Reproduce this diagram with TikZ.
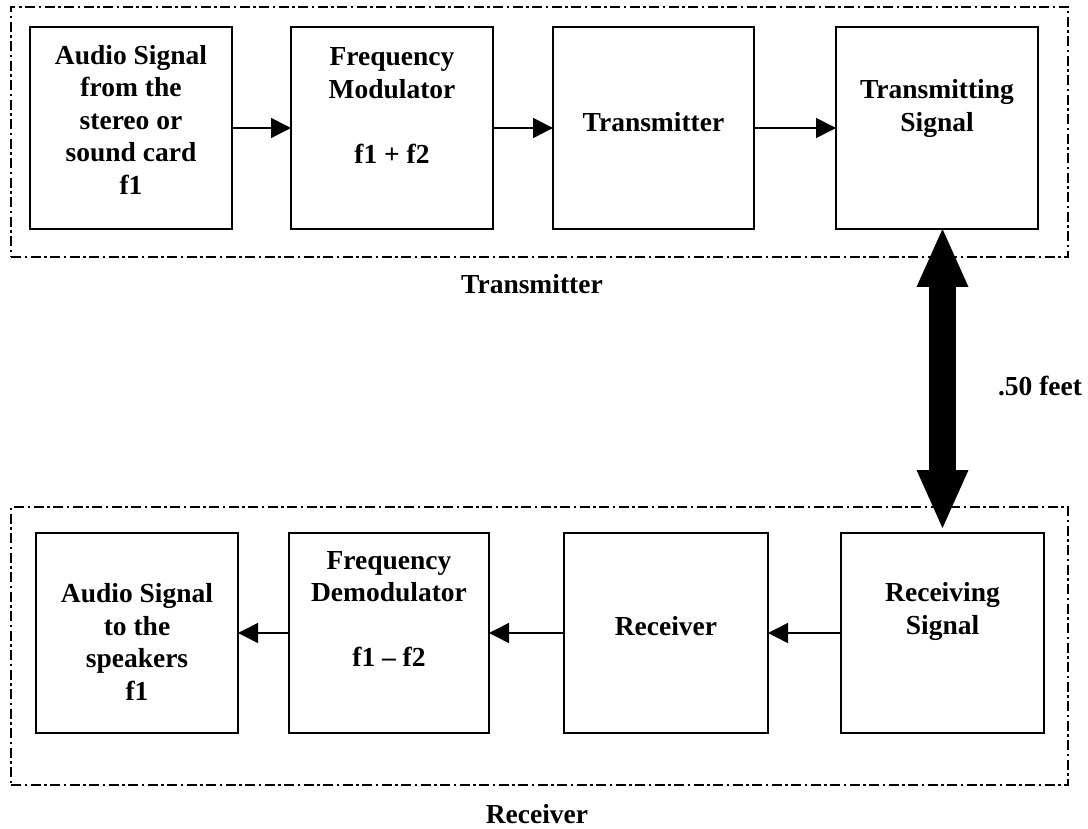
\documentclass[tikz,border=0pt]{standalone}
\usepackage{fontspec}
\setmainfont{Liberation Serif}
\usetikzlibrary{arrows.meta,calc}
\begin{document}
\begin{tikzpicture}[x=1pt,y=-1pt,
  font=\bfseries\fontsize{27.5}{32.5}\selectfont,
  box/.style={draw=black,line width=1.8pt,minimum width=202pt,minimum height=202pt,inner sep=0pt,outer sep=0pt},
  txt/.style={align=center,inner sep=0pt},
  flow/.style={line width=1.5pt,-{Triangle[length=20pt,width=20pt]}},
  frame/.style={draw=black,line width=2.8pt,dash pattern=on 10pt off 3.5pt on 2.5pt off 3.5pt,inner sep=0pt,outer sep=0pt},
  link/.style={line width=27pt,{Triangle[length=58pt,width=52pt,line width=0pt]}-{Triangle[length=58pt,width=52pt,line width=0pt]}}
]
\useasboundingbox (0,0) rectangle (1088,829);
% group frames
\node[frame,minimum width=1057pt,minimum height=250pt] (tx) at (539.5,132) {};
\node[frame,minimum width=1057pt,minimum height=278pt] (rx) at (539.5,646) {};
% transmitter row
\node[box] (b1) at (131,128) {};
\node[box] (b2) at (392,128) {};
\node[box,minimum width=201pt] (b3) at (653.5,128) {};
\node[box] (b4) at (937,128) {};
\node[txt] (t1) at (131,119.5) {Audio Signal\\from the\\stereo or\\sound card\\f1};
\node[txt] (t2) at (392,105.5) {Frequency\\Modulator\\[32.5pt]f1 + f2};
\node[txt] (t3) at (653.5,122) {Transmitter};
\node[txt] (t4) at (937,108.5) {Transmitting\\Signal};
% receiver row
\node[box,minimum height=200pt] (b5) at (137,633) {};
\node[box,minimum width=200pt,minimum height=200pt] (b6) at (389,633) {};
\node[box,minimum width=204pt,minimum height=200pt] (b7) at (666,633) {};
\node[box,minimum width=203pt,minimum height=200pt] (b8) at (942.5,633) {};
\node[txt] (t5) at (137,642) {Audio Signal\\to the\\speakers\\f1};
\node[txt] (t6) at (389,609) {Frequency\\Demodulator\\[32.5pt]f1 – f2};
\node[txt] (t7) at (666,626) {Receiver};
\node[txt] (t8) at (942.5,611.5) {Receiving\\Signal};
% labels
\node[txt] (ltx) at (532,284) {Transmitter};
\node[txt] (lrx) at (537,814) {Receiver};
\node[txt] (ldist) at (1040,386) {.50 feet};
% connectors
\draw[flow] (b1.east) -- (b2.west);
\draw[flow] (b2.east) -- (b3.west);
\draw[flow] (b3.east) -- (b4.west);
\draw[flow] (b8.west) -- (b7.east);
\draw[flow] (b7.west) -- (b6.east);
\draw[flow] (b6.west) -- (b5.east);
\draw[link] ($(b8.north)+(0,-5)$) -- (b8.north |- b4.south);
\end{tikzpicture}
\end{document}
